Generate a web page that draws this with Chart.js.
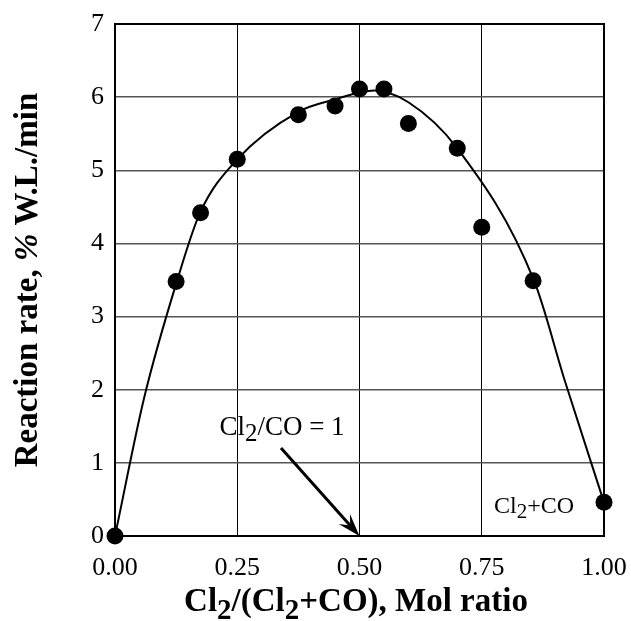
<!DOCTYPE html>
<html>
<head>
<meta charset="utf-8">
<script src="https://cdn.jsdelivr.net/npm/chart.js@4"></script>
<style>
  body { margin: 0; background: #fff; }
</style>
</head>
<body>
<canvas id="grafico" width="631" height="621"></canvas>
<script>
// measured points
const ratio = [0, 0.125, 0.175, 0.25, 0.375, 0.45, 0.5, 0.55, 0.6, 0.7, 0.75, 0.855, 1.0];
const rate = [0, 3.48, 4.42, 5.15, 5.76, 5.88, 6.11, 6.11, 5.64, 5.30, 4.22, 3.49, 0.46];

// fitted curve
const curveX = [0, 0.06, 0.127, 0.174, 0.25, 0.375, 0.45, 0.53, 0.6, 0.7, 0.857, 0.92, 1.0];
const curveY = [0, 1.9, 3.49, 4.42, 5.15, 5.80, 5.97, 6.09, 5.93, 5.30, 3.49, 2.12, 0.46];

const xTicks = [0, 0.25, 0.5, 0.75, 1.0];
const yTicks = [0, 1, 2, 3, 4, 5, 6, 7];

const serif = '"Liberation Serif", "Times New Roman", serif';

// draws text pieces, some of them as subscripts
function textoRico(ctx, partes, x, y, align) {
  let total = 0;
  partes.forEach(p => { ctx.font = p.font; total += ctx.measureText(p.t).width; });
  let cx = align === 'center' ? x - total / 2 : x;
  ctx.textAlign = 'left';
  ctx.textBaseline = 'alphabetic';
  partes.forEach(p => {
    ctx.font = p.font;
    ctx.fillText(p.t, cx, y + (p.dy || 0));
    cx += ctx.measureText(p.t).width;
  });
}

const decoracion = {
  id: 'decoracion',
  beforeDatasetsDraw(chart) {
    const { ctx, chartArea: a } = chart;
    ctx.save();
    ctx.strokeStyle = '#000';
    ctx.lineWidth = 2;
    ctx.strokeRect(a.left, a.top, a.right - a.left, a.bottom - a.top);
    ctx.restore();
  },
  afterDraw(chart) {
    const { ctx, scales } = chart;
    const x = scales.x, y = scales.y;
    ctx.save();
    ctx.fillStyle = '#000';

    const b33 = 'bold 33px ' + serif;
    const b29 = 'bold 29px ' + serif;
    textoRico(ctx, [
      { t: 'Cl', font: b33 }, { t: '2', font: b29, dy: 8 },
      { t: '/(Cl', font: b33 }, { t: '2', font: b29, dy: 8 },
      { t: '+CO), Mol ratio', font: b33 }
    ], 356, 611, 'center');

    ctx.save();
    ctx.translate(37, (y.top + y.bottom) / 2);
    ctx.rotate(-Math.PI / 2);
    textoRico(ctx, [
      { t: 'Reaction rate, ', font: b33 },
      { t: '%', font: 'italic bold 33px ' + serif },
      { t: ' W.L./min', font: b33 }
    ], 0, 0, 'center');
    ctx.restore();

    textoRico(ctx, [
      { t: 'Cl', font: '27px ' + serif }, { t: '2', font: '25px ' + serif, dy: 6 },
      { t: '/CO = 1', font: '27px ' + serif }
    ], 282, 435, 'center');

    textoRico(ctx, [
      { t: 'Cl', font: '24px ' + serif }, { t: '2', font: '21px ' + serif, dy: 5 },
      { t: '+CO', font: '24px ' + serif }
    ], 494, 513, 'left');

    // arrow to Cl2/CO = 1
    const x0 = 281, y0 = 448;
    const x1 = x.getPixelForValue(0.5), y1 = y.getPixelForValue(0);
    const ang = Math.atan2(y1 - y0, x1 - x0);
    ctx.strokeStyle = '#000';
    ctx.lineWidth = 3;
    ctx.beginPath();
    ctx.moveTo(x0, y0);
    ctx.lineTo(x1 - 10 * Math.cos(ang), y1 - 10 * Math.sin(ang));
    ctx.stroke();
    const L = 24, w = 0.32;
    ctx.beginPath();
    ctx.moveTo(x1, y1);
    ctx.lineTo(x1 - L * Math.cos(ang - w), y1 - L * Math.sin(ang - w));
    ctx.lineTo(x1 - 14 * Math.cos(ang), y1 - 14 * Math.sin(ang));
    ctx.lineTo(x1 - L * Math.cos(ang + w), y1 - L * Math.sin(ang + w));
    ctx.closePath();
    ctx.fill();
    ctx.restore();
  }
};

const ctx = document.getElementById('grafico').getContext('2d');
new Chart(ctx, {
  type: 'scatter',
  data: {
    datasets: [
      {
        label: 'curva',
        data: curveX.map((v, i) => ({ x: v, y: curveY[i] })),
        showLine: true,
        borderColor: '#000',
        borderWidth: 2,
        pointRadius: 0,
        cubicInterpolationMode: 'monotone',
        clip: false,
      },
      {
        label: 'datos',
        data: ratio.map((v, i) => ({ x: v, y: rate[i] })),
        showLine: false,
        pointRadius: 8.5,
        pointBackgroundColor: '#000',
        pointBorderWidth: 0,
        clip: false,
      },
    ]
  },
  options: {
    responsive: false,
    animation: false,
    devicePixelRatio: 1,
    layout: { padding: { top: 24, right: 27, left: 0, bottom: 0 } },
    plugins: {
      legend: { display: false },
      tooltip: { enabled: false },
    },
    scales: {
      x: {
        type: 'linear',
        min: 0,
        max: 1,
        afterFit: s => { s.height = 85; s.paddingLeft = 0; s.paddingRight = 0; },
        afterBuildTicks: s => { s.ticks = xTicks.map(v => ({ value: v })); },
        ticks: {
          callback: v => v.toFixed(2),
          font: { family: serif, size: 26 },
          color: '#000',
          padding: 17,
          maxRotation: 0,
        },
        grid: { color: '#000', lineWidth: 1, drawTicks: false },
        border: { color: '#000', width: 2 },
      },
      y: {
        min: 0,
        max: 7,
        afterFit: s => { s.width = 115; s.paddingTop = 0; s.paddingBottom = 0; },
        afterBuildTicks: s => { s.ticks = yTicks.map(v => ({ value: v })); },
        ticks: {
          font: { family: serif, size: 26 },
          color: '#000',
          padding: 11,
        },
        grid: { color: '#555', lineWidth: 1.5, drawTicks: false },
        border: { color: '#000', width: 2 },
      },
    }
  },
  plugins: [decoracion]
});
</script>
</body>
</html>
